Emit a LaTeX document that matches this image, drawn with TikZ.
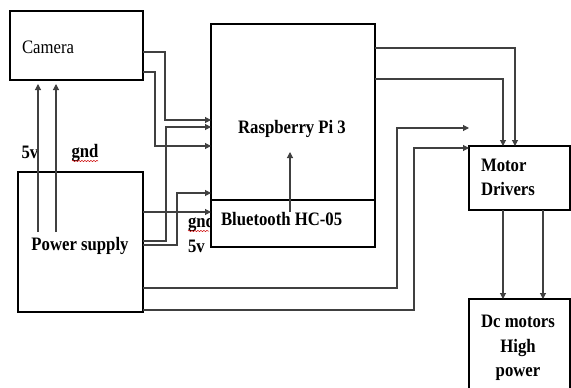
\documentclass[tikz,border=0pt]{standalone}
\usepackage{fontspec}
\setmainfont{Liberation Serif}[FakeStretch=0.88]
\usetikzlibrary{arrows.meta,calc,decorations.pathmorphing}
\begin{document}
\begin{tikzpicture}[x=1pt,y=-1pt,
  box/.style={draw=black,line width=2.2pt,fill=white,inner sep=0pt,outer sep=0pt,rectangle},
  conn/.style={draw=black!75,line width=1.1pt},
  arr/.style={conn,-{Triangle[length=6pt,width=6pt]}},
  txt/.style={font=\fontsize{19}{24}\selectfont\bfseries,inner sep=0pt,outer sep=0pt},
  plain/.style={font=\fontsize{19}{24}\selectfont,inner sep=0pt,outer sep=0pt},
  squig/.style={draw=red!80!black,line width=0.5pt,decorate,decoration={snake,amplitude=0.6pt,segment length=3pt}}]
\useasboundingbox (0,0) rectangle (571,388);
% labels partly under the Bluetooth box
\node[txt,anchor=base west] (gndb) at (188,227) {gnd};
\node[txt,anchor=base west] (vb) at (188,252) {5v};
\draw[squig] (188,231) -- (209,231);
% boxes
\node[box,minimum width=133pt,minimum height=69pt] (cam) at (76.5,45.5) {};
\node[box,minimum width=164pt,minimum height=176pt] (rpi) at (293,112) {};
\node[box,minimum width=164pt,minimum height=47pt] (bt) at (293,223.5) {};
\node[box,minimum width=125pt,minimum height=140pt] (ps) at (80.5,242) {};
\node[box,minimum width=101pt,minimum height=64pt] (md) at (519.5,178) {};
\node[box,minimum width=101pt,minimum height=90pt] (dc) at (519.5,344) {};
% texts
\node[plain,anchor=base west] (camt) at (22,53) {Camera};
\node[txt,anchor=base] (rpit) at (292,133) {Raspberry Pi 3};
\node[txt,anchor=base west] (btt) at (221,225) {Bluetooth HC-05};
\node[txt,anchor=base] (pst) at (80,250) {Power supply};
\node[txt,anchor=north west,align=left] (mdt) at (481,159.5) {Motor\\Drivers};
\node[txt,anchor=north,align=center,font=\fontsize{19}{24.5}\selectfont\bfseries] (dct) at (518,315.5) {Dc motors\\High\\power};
\node[txt,anchor=base] (v1) at (30,158) {5v};
\node[txt,anchor=base] (g1) at (85,157) {gnd};
\draw[squig] (72,161) -- (98,161);
% connectors camera -> rpi
\draw[arr] ($(cam.east)+(0,6.5)$) -| (165,120) -- ($(rpi.west)+(0,8)$);
\draw[arr] ($(cam.east)+(0,26.5)$) -| (155,146) -- ($(rpi.west)+(0,34)$);
% power supply -> rpi / bt
\draw[arr] ($(ps.east)+(0,-1)$) -| (166,127) -- ($(rpi.west)+(0,15)$);
\draw[arr] ($(ps.east)+(0,3)$) -| (177,193) -- ($(rpi.west)+(0,81)$);
\draw[arr] ($(ps.east)+(0,-30)$) -- ($(bt.west)+(0,-11.5)$);
% power supply -> motor drivers
\coordinate (tip) at (469,128);
\draw[arr] ($(ps.east)+(0,46)$) -| (397,128) -- (tip);
\draw[arr] ($(ps.east)+(0,68)$) -| (414,148) -- ($(md.west)+(0,-30)$);
% rpi -> motor drivers
\draw[arr] ($(rpi.east)+(0,-64)$) -| ($(md.north)+(-4.5,0)$);
\draw[arr] ($(rpi.east)+(0,-33)$) -| ($(md.north)+(-16.5,0)$);
% motor drivers -> dc motors
\draw[arr] ($(md.south)+(-16.5,0)$) -- ($(dc.north)+(-16.5,0)$);
\draw[arr] ($(md.south)+(23.5,0)$) -- ($(dc.north)+(23.5,0)$);
% power supply -> camera
\draw[arr,shorten >=4pt] ($(ps.north)+(-42.5,60)$) -- ($(cam.south)+(-38.5,0)$);
\draw[arr,shorten >=4pt] ($(ps.north)+(-24.5,60)$) -- ($(cam.south)+(-20.5,0)$);
% bluetooth -> rpi
\draw[arr] ($(bt.north)+(-3,12)$) -- ($(rpi.south)+(-3,-48)$);
\end{tikzpicture}
\end{document}
